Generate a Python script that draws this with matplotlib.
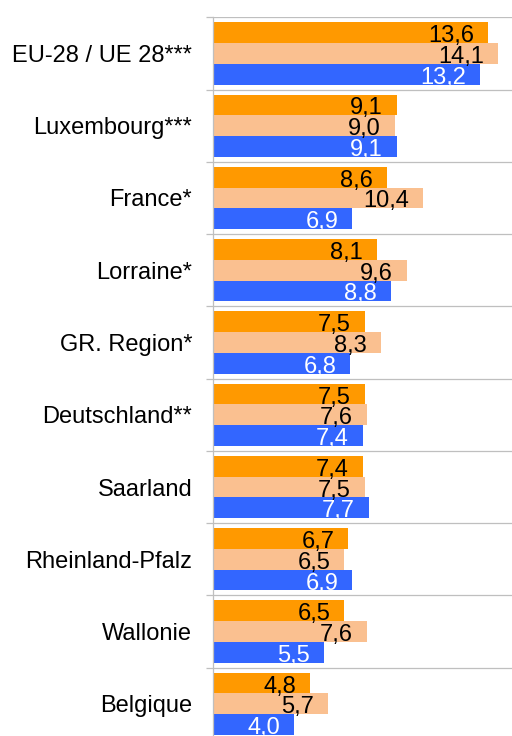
import numpy as np
import matplotlib
matplotlib.use("Agg")
import matplotlib.pyplot as plt
from matplotlib.ticker import FixedLocator

# Regions, top to bottom
regions = ["EU-28 / UE 28***", "Luxembourg***", "France*", "Lorraine*",
           "GR. Region*", "Deutschland**", "Saarland", "Rheinland-Pfalz",
           "Wallonie", "Belgique"]

# Three series per region (orange, peach, blue)
series_a = [13.6, 9.1, 8.6, 8.1, 7.5, 7.5, 7.4, 6.7, 6.5, 4.8]
series_b = [14.1, 9.0, 10.4, 9.6, 8.3, 7.6, 7.5, 6.5, 7.6, 5.7]
series_c = [13.2, 9.1, 6.9, 8.8, 6.8, 7.4, 7.7, 6.9, 5.5, 4.0]

colors = ["#FF9900", "#FAC090", "#3366FF"]
text_colors = ["black", "black", "white"]

plt.rcParams['font.family'] = ['Liberation Sans', 'DejaVu Sans']

fig = plt.figure(figsize=(5.12, 7.36), dpi=100)
ax = fig.add_axes([213 / 512, 1 - 740 / 736, 299 / 512, 722.7 / 736])

y = np.arange(len(regions))
h = 0.287
for k, (vals, col, tcol) in enumerate(zip([series_a, series_b, series_c], colors, text_colors)):
    pos = y + (k - 1) * h
    ax.barh(pos, vals, height=h, color=col, linewidth=0, zorder=2)
    for p, v in zip(pos, vals):
        ax.annotate(f"{v:.1f}".replace(".", ","), xy=(v, p), xytext=(-14, -1),
                    textcoords="offset pixels", ha="right", va="center_baseline",
                    fontsize=17, color=tcol, zorder=3)

ax.set_xlim(0, 14.8)
ax.set_ylim(len(regions) - 0.5, -0.5)

ax.set_yticks(y)
ax.set_yticklabels(regions, fontsize=17)
ax.tick_params(axis="y", which="major", length=0, pad=15)
ax.yaxis.set_minor_locator(FixedLocator(np.arange(-0.5, len(regions), 1.0)))
ax.tick_params(axis="y", which="minor", length=4.8, width=0.9, color="#BFBFBF", direction="out")
ax.grid(axis="y", which="minor", color="#BFBFBF", linewidth=0.9, zorder=1)
ax.set_xticks([])

for side in ["top", "right", "bottom"]:
    ax.spines[side].set_visible(False)
ax.spines["left"].set_color("#BFBFBF")
ax.spines["left"].set_linewidth(0.9)

fig.savefig("out.png", dpi=100)
